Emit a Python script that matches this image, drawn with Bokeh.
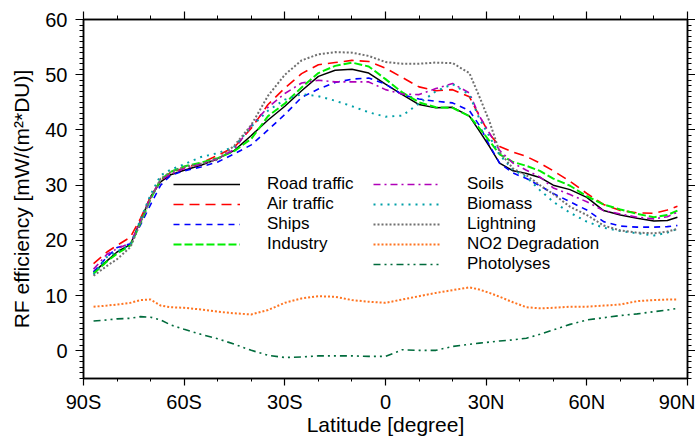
from bokeh.plotting import figure
from bokeh.models import (Range1d, FixedTicker, LinearAxis, Legend, LegendItem,
                          CustomJSTickFormatter)
from bokeh.embed import file_html
from bokeh.resources import INLINE

# ---------------- data ----------------
lat = [-87, -83, -80, -76, -73, -70, -67, -64, -60, -55, -50, -45, -40, -35, -30,
       -25, -20, -15, -10, -5, 0, 5, 10, 15, 20, 25, 28, 31, 34, 38, 42, 46, 50,
       55, 60, 65, 70, 75, 80, 84, 87]

road_traffic = [14.3, 16.3, 17.9, 19.3, 23.6, 27.9, 30.6, 31.9, 32.7, 33.6, 34.8, 36.3, 39.0, 41.8, 44.3,
                47.1, 49.7, 50.8, 51.0, 50.3, 48.3, 46.4, 44.6, 44.0, 44.1, 42.5, 39.8, 37.0, 34.0, 32.6,
                32.1, 31.4, 30.0, 29.2, 27.8, 25.4, 24.6, 24.0, 23.5, 23.6, 24.2]
air_traffic = [15.8, 17.9, 19.1, 20.6, 24.0, 27.9, 30.9, 32.3, 33.1, 34.0, 35.4, 36.9, 40.3, 44.6, 47.6,
               50.2, 51.8, 52.2, 52.6, 52.4, 51.2, 49.5, 47.8, 47.1, 47.3, 46.0, 42.5, 39.3, 37.0, 36.0,
               35.2, 34.0, 32.6, 30.7, 28.5, 26.5, 25.4, 25.0, 24.9, 25.5, 26.2]
ships = [14.3, 17.0, 18.7, 19.4, 22.8, 26.5, 30.0, 31.8, 32.6, 33.3, 34.2, 35.7, 37.3, 40.0, 42.8,
         45.9, 47.4, 48.6, 49.2, 49.4, 48.3, 46.4, 45.6, 45.2, 44.9, 43.5, 40.8, 37.2, 34.0, 32.2,
         31.2, 29.9, 28.5, 27.0, 25.5, 23.4, 22.6, 22.4, 22.4, 22.5, 22.7]
industry = [14.0, 16.2, 17.6, 19.1, 23.2, 27.5, 31.0, 32.4, 33.4, 34.1, 34.9, 36.2, 38.4, 42.5, 44.8,
            47.7, 50.3, 51.6, 52.2, 51.5, 49.2, 46.8, 45.0, 44.1, 44.0, 42.5, 40.3, 38.0, 35.6, 34.2,
            33.5, 32.6, 31.2, 29.9, 28.0, 26.5, 25.6, 24.8, 24.2, 24.6, 25.4]
soils = [14.8, 17.5, 18.5, 19.5, 23.5, 27.8, 30.9, 32.0, 33.0, 33.8, 34.8, 36.5, 40.8, 44.1, 46.6,
         48.5, 49.0, 48.7, 48.7, 48.7, 47.3, 46.5, 46.4, 47.5, 48.4, 46.7, 42.5, 39.4, 36.3, 34.0,
         32.7, 31.5, 29.5, 28.3, 27.0, 25.4, 24.8, 24.2, 23.9, 24.3, 25.1]
biomass = [13.8, 17.0, 18.0, 19.2, 23.8, 28.3, 31.8, 32.8, 33.8, 35.1, 35.8, 37.0, 40.6, 43.5, 45.5,
           46.5, 46.1, 45.3, 44.3, 43.2, 42.4, 42.6, 44.8, 47.0, 48.3, 46.4, 42.0, 38.8, 35.5, 32.8,
           31.5, 29.1, 27.0, 25.0, 23.4, 22.3, 21.7, 21.3, 20.9, 21.4, 22.1]
lightning = [13.6, 15.4, 16.6, 18.8, 23.2, 27.6, 31.2, 32.4, 33.3, 33.9, 34.6, 37.2, 40.9, 46.2, 50.0,
             52.6, 53.7, 54.1, 54.0, 53.4, 52.3, 52.0, 52.0, 52.2, 52.1, 50.3, 46.0, 41.5, 36.0, 33.0,
             31.8, 30.0, 28.4, 26.1, 24.6, 22.7, 21.8, 21.4, 21.3, 21.6, 22.1]
no2_degradation = [8.0, 8.2, 8.4, 8.7, 9.2, 9.3, 8.2, 7.9, 7.8, 7.5, 7.1, 6.8, 6.6, 7.4, 8.7,
                   9.5, 9.9, 9.8, 9.2, 8.9, 8.7, 9.3, 9.9, 10.5, 11.0, 11.5, 11.1, 10.5, 9.8, 8.8,
                   7.9, 7.7, 7.8, 8.0, 8.0, 8.2, 8.4, 9.0, 9.2, 9.3, 9.3]
photolyses = [5.4, 5.6, 5.8, 5.9, 6.2, 6.1, 5.6, 4.7, 3.9, 3.0, 2.2, 1.2, 0.1, -0.8, -1.2,
              -1.1, -0.9, -0.9, -0.9, -1.0, -1.0, 0.2, 0.1, 0.1, 0.8, 1.2, 1.4, 1.6, 1.8, 2.0,
              2.3, 3.0, 3.8, 4.8, 5.6, 6.0, 6.4, 6.7, 7.1, 7.4, 7.7]

series_names = ["Road traffic", "Air traffic", "Ships", "Industry", "Soils", "Biomass",
                "Lightning", "NO2 Degradation", "Photolyses"]

x_tick_vals = [-90, -60, -30, 0, 30, 60, 90]
x_tick_labels = ["90S", "60S", "30S", "0", "30N", "60N", "90N"]
x_minor_vals = [-80, -70, -50, -40, -20, -10, 10, 20, 40, 50, 70, 80]
y_tick_vals = [0, 10, 20, 30, 40, 50, 60]
y_minor_vals = list(range(-5, 61))

# ---------------- styles ----------------
styles = [
    dict(color="#000000", dash="solid", width=1.5),
    dict(color="#ff0000", dash="10 6", width=1.6),
    dict(color="#0000ff", dash="6 5", width=1.6),
    dict(color="#00ee00", dash="8 3", width=2.0),
    dict(color="#b000b8", dash="7 4 2 4", width=1.6),
    dict(color="#00a0a8", dash="2 5", width=2.0),
    dict(color="#707070", dash="2 2", width=2.0),
    dict(color="#ff7420", dash="2 2", width=2.0),
    dict(color="#006b3c", dash="7 4 2 4 2 4", width=1.6),
]

FONT = "Liberation Sans"

p = figure(width=695, height=438, output_backend="svg", toolbar_location=None,
           x_range=Range1d(-90, 90), y_range=Range1d(-5, 60),
           min_border_left=83, min_border_right=0, min_border_top=19, min_border_bottom=20)
p.grid.visible = False
p.outline_line_color = "black"
p.outline_line_width = 1.5
p.background_fill_color = "white"
p.border_fill_color = "white"

data = [road_traffic, air_traffic, ships, industry, soils, biomass, lightning,
        no2_degradation, photolyses]
renderers = []
for vals, st in zip(data, styles):
    r = p.line(lat, vals, line_color=st["color"], line_dash=st["dash"],
               line_width=st["width"])
    renderers.append(r)

# bottom axis
xa = p.xaxis[0]
xa.ticker = FixedTicker(ticks=x_tick_vals, minor_ticks=x_minor_vals)
xa.major_label_overrides = {v: l for v, l in zip(x_tick_vals, x_tick_labels)}
xa.axis_label = "Latitude [degree]"
# left axis
ya = p.yaxis[0]
ya.ticker = FixedTicker(ticks=y_tick_vals, minor_ticks=y_minor_vals)
ya.axis_label = "RF efficiency [mW/(m²*DU)]"

for ax in (xa, ya):
    ax.major_label_text_font = FONT
    ax.major_label_text_font_size = "20px"
    ax.major_label_text_color = "black"
    ax.axis_label_text_font = FONT
    ax.axis_label_text_font_size = "21px"
    ax.axis_label_text_font_style = "normal"
    ax.axis_label_text_color = "black"
    ax.axis_line_width = 1.5
    ax.major_tick_line_width = 1.2
    ax.minor_tick_line_width = 1.0
    ax.major_tick_in = 0
    ax.minor_tick_in = 0

xa.major_tick_out = 7
xa.minor_tick_out = 3
xa.major_label_standoff = 5
xa.axis_label_standoff = -3
ya.major_tick_out = 8
ya.minor_tick_out = 4
ya.major_label_standoff = 8
ya.axis_label_standoff = 9

blank = CustomJSTickFormatter(code="return ''")
common = dict(formatter=blank, major_tick_out=8, minor_tick_out=4,
              major_tick_in=0, minor_tick_in=0, major_label_standoff=0,
              axis_label_standoff=0, major_label_text_font_size="0px",
              axis_line_width=1.5, major_tick_line_width=1.2, minor_tick_line_width=1.0)
top = LinearAxis(ticker=FixedTicker(ticks=x_tick_vals, minor_ticks=x_minor_vals), **common)
right = LinearAxis(ticker=FixedTicker(ticks=y_tick_vals, minor_ticks=y_minor_vals), **common)
p.add_layout(top, "above")
p.add_layout(right, "right")

# legends (two columns)
def make_legend(names, rends, loc):
    lg = Legend(items=[LegendItem(label=n, renderers=[r]) for n, r in zip(names, rends)],
                location=loc, orientation="vertical",
                glyph_width=67, glyph_height=20, label_height=20, spacing=0,
                label_standoff=27, padding=0, margin=0,
                border_line_color=None, background_fill_alpha=0,
                label_text_font=FONT, label_text_font_size="17px",
                label_text_color="black")
    return lg

p.add_layout(make_legend(series_names[:4], renderers[:4], (90, 124)), "center")
p.add_layout(make_legend(series_names[4:], renderers[4:], (290, 104)), "center")

open("out.html", "w").write(file_html(p, INLINE))
